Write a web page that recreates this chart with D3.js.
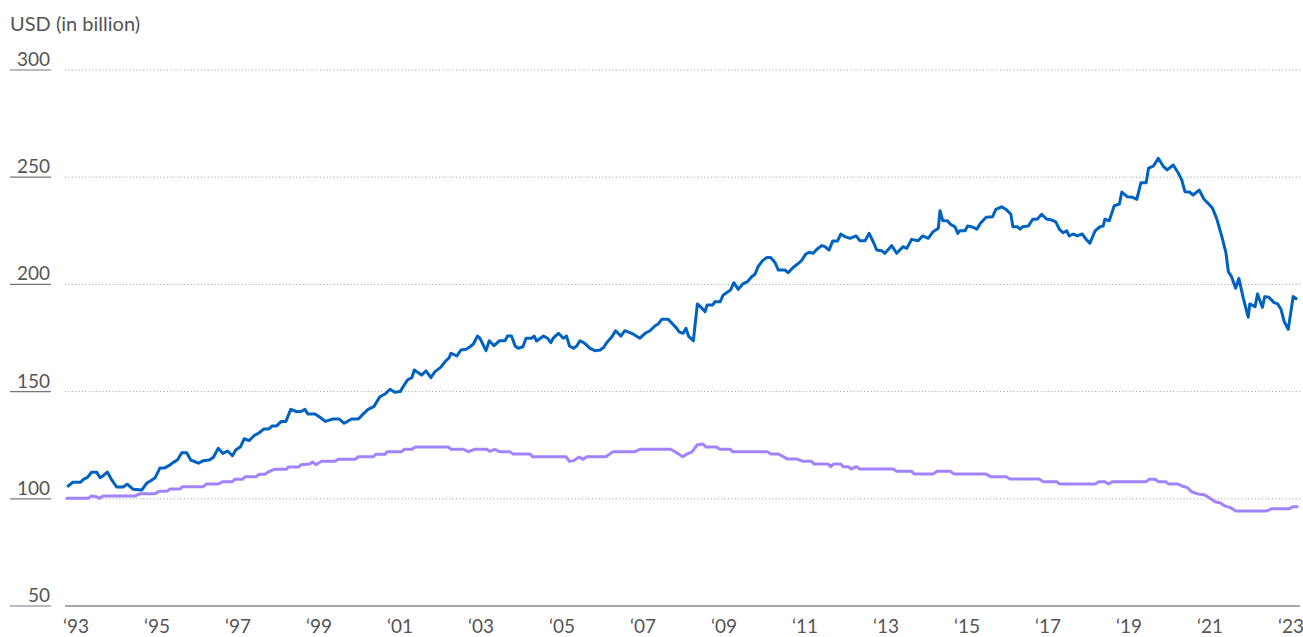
<!DOCTYPE html>
<html>
<head>
<meta charset="utf-8">
<script src="https://cdn.jsdelivr.net/npm/d3@7"></script>
<style>
  html, body { margin: 0; padding: 0; background: #fff; }
  svg { display: block; }
  text { font-family: Lato, "Open Sans", sans-serif; fill: #555; }
</style>
</head>
<body>
<svg id="chart" width="1303" height="637"></svg>
<script>
// ---------------- DATA ----------------
const unitLabel = "USD (in billion)";
const yTicks = [50, 100, 150, 200, 250, 300];
const xTickYears = [1993, 1995, 1997, 1999, 2001, 2003, 2005, 2007, 2009, 2011, 2013, 2015, 2017, 2019, 2021, 2023];

// Blue series (decimal year, value)
const blueDates = [
1993.03,1993.17,1993.36,1993.43,1993.53,1993.63,1993.76,1993.84,1993.92,1994.02,
1994.13,1994.25,1994.41,1994.51,1994.66,1994.87,1994.99,1995.12,1995.20,1995.32,
1995.44,1995.57,1995.65,1995.75,1995.86,1995.98,1996.08,1996.27,1996.39,1996.54,
1996.64,1996.76,1996.87,1996.99,1997.11,1997.19,1997.31,1997.40,1997.52,1997.64,
1997.77,1997.89,1998.01,1998.09,1998.20,1998.31,1998.43,1998.55,1998.70,1998.82,
1998.90,1998.97,1999.15,1999.29,1999.40,1999.59,1999.75,1999.87,2000.05,2000.22,
2000.34,2000.46,2000.60,2000.75,2000.88,2001.00,2001.12,2001.25,2001.43,2001.54,
2001.60,2001.78,2001.89,2002.01,2002.11,2002.25,2002.36,2002.46,2002.51,2002.65,
2002.75,2002.88,2002.96,2003.06,2003.16,2003.22,2003.37,2003.45,2003.57,2003.70,
2003.84,2003.90,2004.00,2004.09,2004.17,2004.28,2004.36,2004.50,2004.56,2004.62,
2004.79,2004.89,2004.97,2005.03,2005.16,2005.28,2005.36,2005.43,2005.53,2005.61,
2005.69,2005.81,2005.94,2006.06,2006.19,2006.28,2006.35,2006.47,2006.57,2006.70,
2006.80,2006.97,2007.17,2007.30,2007.42,2007.54,2007.62,2007.71,2007.87,2007.98,
2008.08,2008.14,2008.24,2008.31,2008.37,2008.49,2008.59,2008.70,2008.78,2008.83,
2008.97,2009.02,2009.15,2009.23,2009.31,2009.41,2009.49,2009.60,2009.71,2009.83,
2009.93,2010.01,2010.09,2010.20,2010.30,2010.40,2010.51,2010.59,2010.75,2010.83,
2010.96,2011.06,2011.16,2011.27,2011.35,2011.45,2011.54,2011.66,2011.74,2011.84,
2011.93,2012.05,2012.13,2012.23,2012.36,2012.51,2012.60,2012.73,2012.83,2012.93,
2013.02,2013.14,2013.22,2013.39,2013.51,2013.67,2013.76,2013.88,2014.04,2014.15,
2014.29,2014.41,2014.54,2014.58,2014.65,2014.76,2014.84,2014.95,2015.02,2015.07,
2015.20,2015.26,2015.36,2015.49,2015.58,2015.72,2015.88,2015.96,2016.10,2016.21,
2016.33,2016.38,2016.49,2016.56,2016.62,2016.76,2016.87,2016.98,2017.09,2017.21,
2017.34,2017.44,2017.53,2017.62,2017.71,2017.77,2017.87,2017.97,2018.09,2018.19,
2018.28,2018.41,2018.53,2018.61,2018.65,2018.76,2018.88,2019.01,2019.07,2019.20,
2019.34,2019.44,2019.54,2019.67,2019.73,2019.85,2019.97,2020.09,2020.19,2020.34,
2020.46,2020.55,2020.63,2020.74,2020.83,2020.98,2021.10,2021.20,2021.31,2021.41,
2021.54,2021.64,2021.70,2021.78,2021.88,2021.96,2022.07,2022.19,2022.23,2022.36,
2022.42,2022.54,2022.60,2022.70,2022.83,2022.92,2023.00,2023.08,2023.18,2023.30,
2023.40];
const blueValues = [
105.6,107.7,107.7,109.1,110.0,112.4,112.4,109.8,110.8,112.5,
108.8,105.5,105.5,106.8,104.4,104.1,107.2,108.8,109.8,114.4,
114.4,115.8,117.0,118.1,121.5,121.5,118.1,116.6,117.8,118.1,
119.4,123.6,121.2,122.3,120.1,122.8,124.3,128.0,127.1,129.4,
130.8,132.6,132.6,134.0,134.0,136.0,136.1,141.7,140.6,140.8,
141.7,139.6,139.6,137.8,136.1,137.2,137.2,135.2,137.2,137.2,
139.6,141.7,143.0,147.6,148.9,151.1,149.7,150.0,155.4,156.5,
160.1,157.7,159.7,156.5,159.3,161.3,164.0,165.8,167.9,166.6,
169.4,169.7,170.7,172.2,175.9,174.9,169.1,173.7,171.4,173.7,
173.7,175.9,175.9,171.3,170.2,170.9,174.9,174.9,175.9,173.6,
175.9,174.9,172.8,174.9,177.2,174.9,175.9,171.3,170.2,171.3,
173.7,172.5,170.2,169.1,169.4,170.7,172.8,175.3,178.4,175.9,
178.4,177.2,174.9,177.2,178.4,180.6,181.5,183.7,183.7,181.5,
179.5,177.9,177.2,179.5,175.9,173.7,190.9,188.9,187.3,190.4,
190.4,191.9,191.9,195.1,196.1,197.4,200.8,197.7,200.2,201.3,
203.6,204.7,208.3,211.1,212.5,212.5,210.1,206.7,206.7,205.5,
208.0,209.4,211.1,214.2,215.0,214.5,216.4,218.1,217.6,216.0,
220.2,220.2,223.5,222.3,221.5,222.6,220.4,220.4,223.8,219.9,
216.0,215.7,214.5,218.1,214.5,217.6,216.8,221.0,220.4,222.6,
221.5,224.6,226.2,234.4,229.7,229.7,228.0,226.9,223.8,225.0,
225.0,227.2,226.9,225.8,228.5,231.3,231.6,235.0,236.2,235.0,
232.7,226.9,226.9,225.8,226.9,227.2,230.4,230.4,232.7,230.5,
230.0,229.2,225.7,224.1,225.0,222.6,223.5,222.6,223.5,221.0,
219.2,225.0,226.9,227.2,230.4,229.7,236.6,237.5,243.1,240.9,
240.6,239.7,247.4,247.4,254.2,255.2,258.8,255.2,253.4,255.7,
252.1,248.7,243.2,243.1,241.7,244.0,239.7,237.8,235.5,230.8,
222.3,214.8,205.9,203.6,198.2,202.8,193.5,184.7,190.9,189.6,
195.5,189.3,194.3,194.0,191.5,190.9,188.4,182.6,179.1,194.3,
193.1];

// Purple series (decimal year, value)
const purpleDates = [
1993.00,1993.55,1993.63,1993.76,1993.82,1993.92,1994.70,1994.83,1995.20,1995.30,
1995.49,1995.57,1995.81,1995.88,1996.39,1996.46,1996.76,1996.87,1997.11,1997.17,
1997.36,1997.42,1997.69,1997.77,1997.91,1997.99,1998.16,1998.45,1998.49,1998.74,
1998.80,1999.02,1999.09,1999.17,1999.31,1999.64,1999.72,2000.14,2000.22,2000.59,
2000.65,2000.88,2000.93,2001.29,2001.35,2001.54,2001.62,2002.44,2002.50,2002.81,
2002.93,2003.10,2003.39,2003.46,2003.59,2003.70,2003.96,2004.04,2004.46,2004.52,
2005.35,2005.43,2005.53,2005.67,2005.77,2005.86,2006.33,2006.51,2007.05,2007.17,
2007.93,2008.06,2008.23,2008.33,2008.45,2008.59,2008.72,2008.80,2009.05,2009.15,
2009.40,2009.46,2010.32,2010.40,2010.59,2010.81,2011.04,2011.19,2011.41,2011.47,
2011.82,2011.88,2011.95,2012.13,2012.19,2012.32,2012.38,2012.52,2012.60,2013.43,
2013.51,2013.88,2013.94,2014.41,2014.51,2014.83,2014.93,2015.72,2015.83,2016.21,
2016.31,2017.03,2017.12,2017.46,2017.53,2018.41,2018.51,2018.65,2018.74,2018.84,
2019.67,2019.75,2019.89,2019.97,2020.16,2020.22,2020.46,2020.55,2020.67,2020.79,
2020.96,2021.12,2021.25,2021.37,2021.49,2021.62,2021.74,2021.89,2022.65,2022.77,
2023.21,2023.29,2023.43];
const purpleValues = [
100.2,100.2,101.3,101.0,100.2,101.3,101.3,102.4,102.4,103.5,
103.5,104.6,104.6,105.6,105.6,106.9,106.9,108.0,108.0,109.1,
109.1,110.3,110.3,111.4,111.4,112.5,113.8,113.8,114.8,114.8,
115.9,116.2,117.2,115.9,117.5,117.5,118.4,118.4,119.6,119.6,
120.8,120.8,122.0,122.0,123.1,123.1,124.2,124.2,123.1,123.1,
122.0,123.1,123.1,122.1,123.1,122.0,122.0,120.9,120.9,119.6,
119.6,117.5,117.8,119.5,118.4,119.6,119.6,122.0,122.0,123.1,
123.1,121.7,119.6,120.9,121.8,125.2,125.6,124.2,124.2,123.1,
123.1,122.0,122.0,120.9,120.9,118.6,118.6,117.5,117.5,116.2,
116.2,115.0,116.2,116.2,115.0,115.0,113.9,115.0,113.9,113.9,
112.8,112.8,111.6,111.6,112.8,112.8,111.6,111.6,110.3,110.3,
109.2,109.2,108.0,108.0,106.9,106.9,108.0,108.0,106.9,108.0,
108.0,109.1,109.1,108.0,108.0,106.9,106.9,106.0,105.4,103.3,
102.2,101.8,100.2,98.6,98.2,96.6,96.0,94.3,94.3,95.4,
95.4,96.3,96.3];

// ---------------- CHART ----------------
const svg = d3.select("#chart");
const x = d3.scaleLinear().domain([1993, 2023.43]).range([66, 1298.4]);
const y = d3.scaleLinear().domain([50, 300]).range([606, 70]);
const gridLeft = 65, gridRight = 1300;

// unit label
svg.append("text")
  .attr("x", 10).attr("y", 31)
  .style("font-size", "20px")
  .text(unitLabel);

// gridlines
svg.append("g").selectAll("line")
  .data(yTicks.filter(d => d !== 50))
  .join("line")
  .attr("x1", gridLeft).attr("x2", gridRight)
  .attr("y1", d => y(d)).attr("y2", d => y(d))
  .attr("stroke", "#9a9a9a")
  .attr("stroke-width", 1)
  .attr("stroke-dasharray", "1,2.4");

// baseline
svg.append("line")
  .attr("x1", gridLeft).attr("x2", gridRight)
  .attr("y1", y(50)).attr("y2", y(50))
  .attr("stroke", "#8a8a8a").attr("stroke-width", 1.5);

// y tick underlines + labels
const yt = svg.append("g").selectAll("g").data(yTicks).join("g")
  .attr("transform", d => `translate(0,${y(d)})`);
yt.append("line")
  .attr("x1", 10).attr("x2", 51)
  .attr("stroke", "#777").attr("stroke-width", 1.2);
yt.append("text")
  .attr("x", 50).attr("y", -4)
  .attr("text-anchor", "end")
  .style("font-size", "19px")
  .text(d => d);

// x tick labels
svg.append("g").selectAll("text").data(xTickYears).join("text")
  .attr("x", d => x(d)).attr("dx", -3)
  .attr("y", 633)
  .attr("text-anchor", "start")
  .style("font-size", "19px")
  .text(d => "\u2018" + String(d).slice(2));

// lines
const line = d3.line().x(d => x(d[0])).y(d => y(d[1]));
const purple = purpleDates.map((d, i) => [d, purpleValues[i]]);
const blue = blueDates.map((d, i) => [d, blueValues[i]]);

svg.append("path").datum(purple)
  .attr("d", line).attr("fill", "none")
  .attr("stroke", "#a183ff").attr("stroke-width", 3)
  .attr("stroke-linejoin", "round");

svg.append("path").datum(blue)
  .attr("d", line).attr("fill", "none")
  .attr("stroke", "#0062c0").attr("stroke-width", 3)
  .attr("stroke-linejoin", "round");
</script>
</body>
</html>
